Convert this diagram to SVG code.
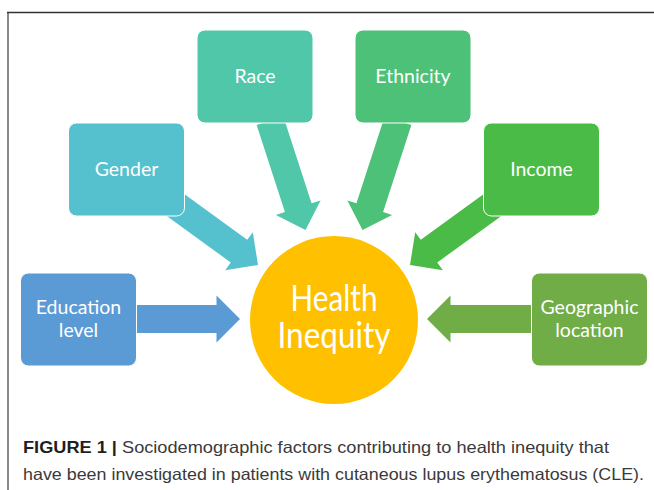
<svg xmlns="http://www.w3.org/2000/svg" width="654" height="490" viewBox="0 0 654 490">
<defs>
<style>
.box{stroke:#ffffff;stroke-width:1}
.lbl{font-family:Lato,"Open Sans","DejaVu Sans",sans-serif;font-size:19.5px;fill:#ffffff;text-anchor:middle}
.big{font-family:Lato,"Open Sans","DejaVu Sans",sans-serif;font-size:36px;fill:#ffffff;text-anchor:middle}
.cap{font-family:"Liberation Sans",Arial,sans-serif;font-size:16.5px;fill:#3a3a3a}
.capb{font-weight:bold;fill:#1f1f1f}
</style>
<path id="arr" d="M-115,-14 L-23.5,-14 L-23.5,-23.5 L0,0 L-23.5,23.5 L-23.5,14 L-115,14 Z"/>
</defs>
<rect width="654" height="490" fill="#ffffff"/>
<line x1="8" y1="12" x2="8" y2="490" stroke="#8a8a8a" stroke-width="2"/>
<line x1="7" y1="12.5" x2="654" y2="12.5" stroke="#333333" stroke-width="1.5"/>
<g id="connectors">
<use href="#arr" fill="#5B9BD5" transform="translate(240,319)"/>
<use href="#arr" fill="#70AD47" transform="translate(427,319) rotate(180)"/>
<use href="#arr" fill="#55C1CE" transform="translate(258,265) rotate(36)"/>
<use href="#arr" fill="#4BBB48" transform="translate(410,265) rotate(144)"/>
<use href="#arr" fill="#50C7A8" transform="translate(305.5,230) rotate(72)"/>
<use href="#arr" fill="#4CC177" transform="translate(362.5,230) rotate(108)"/>
</g>
<g id="race"><rect class="box" x="197" y="30" width="116" height="93" rx="8" fill="#50C7A8"/><text class="lbl" x="255" y="83">Race</text></g>
<g id="ethnicity"><rect class="box" x="355" y="30" width="116" height="93" rx="8" fill="#4CC177"/><text class="lbl" x="413" y="83">Ethnicity</text></g>
<g id="gender"><rect class="box" x="68.5" y="123" width="116" height="93" rx="8" fill="#55C1CE"/><text class="lbl" x="126.5" y="176">Gender</text></g>
<g id="income"><rect class="box" x="483.5" y="123" width="116" height="93" rx="8" fill="#4BBB48"/><text class="lbl" x="541.5" y="176">Income</text></g>
<g id="education"><rect class="box" x="20.5" y="273" width="116" height="93" rx="8" fill="#5B9BD5"/><text class="lbl" x="78.5" y="314">Education</text><text class="lbl" x="78.5" y="337">level</text></g>
<g id="geographic"><rect class="box" x="531.5" y="273" width="116" height="93" rx="8" fill="#70AD47"/><text class="lbl" x="589.5" y="314">Geographic</text><text class="lbl" x="589.5" y="337">location</text></g>
<g id="health"><circle cx="334" cy="320" r="84" fill="#FFC000"/><text class="big" x="334" y="311" textLength="87" lengthAdjust="spacingAndGlyphs">Health</text><text class="big" x="334" y="348" textLength="113" lengthAdjust="spacingAndGlyphs">Inequity</text></g>
<g id="caption">
<text class="cap" x="23" y="453" textLength="586" lengthAdjust="spacingAndGlyphs"><tspan class="capb">FIGURE 1 |</tspan> Sociodemographic factors contributing to health inequity that</text>
<text class="cap" x="23" y="480" textLength="621" lengthAdjust="spacingAndGlyphs">have been investigated in patients with cutaneous lupus erythematosus (CLE).</text>
</g>
</svg>
